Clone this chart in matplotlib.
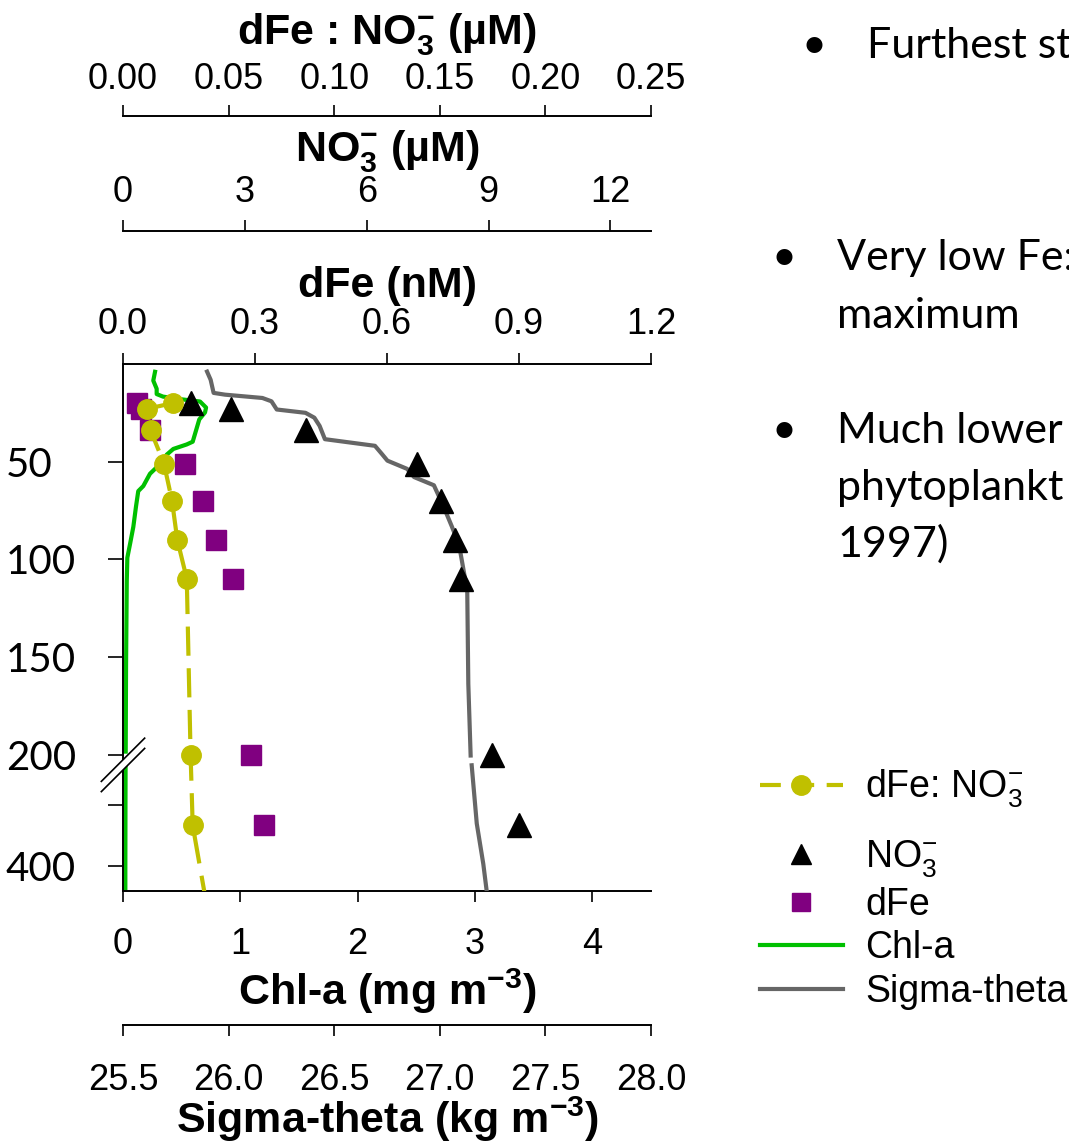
import numpy as np
import matplotlib

matplotlib.use("Agg")
import matplotlib.pyplot as plt
from matplotlib.lines import Line2D
from matplotlib.patches import Polygon

plt.rcParams["font.family"] = ["Liberation Sans", "DejaVu Sans"]
plt.rcParams["mathtext.fontset"] = "custom"
plt.rcParams["mathtext.rm"] = "Liberation Sans"
plt.rcParams["mathtext.bf"] = "Liberation Sans:bold"
plt.rcParams["mathtext.it"] = "Liberation Sans:italic"

# ---- bottle samples (depth in m) ----
sample_depth = [20, 23, 34, 51, 70, 90, 110, 200, 333]
no3 = [1.67, 2.66, 4.5, 7.24, 7.83, 8.18, 8.33, 9.09, 9.75]          # uM
dfe = [0.031, 0.040, 0.061, 0.141, 0.181, 0.211, 0.251, 0.29, 0.32]  # nM
ratio_depth = [20, 23, 34, 51, 70, 90, 110, 200, 333, 500]
ratio = [0.0237, 0.0112, 0.0131, 0.0194, 0.0232, 0.0257, 0.0302, 0.032, 0.033, 0.0415]

# ---- CTD profiles (nan = axis break) ----
chl_depth = [4, 8.5, 12.7, 15.4, 16.7, 18, 19.2, 22.3, 24.8, 28.4, 32.9, 39.8, 41.2,
             43.5, 46.4, 50.3, 52.9, 56.2, 62.5, 65.1, 72.9, 83.4, 92.2, 99.2, 111.4,
             155, 198.5, np.nan, 235, 300, 407, 440]
chl = [0.273, 0.258, 0.287, 0.287, 0.341, 0.486, 0.656, 0.708, 0.699, 0.650, 0.628,
       0.594, 0.543, 0.429, 0.373, 0.338, 0.287, 0.230, 0.173, 0.130, 0.111, 0.088,
       0.060, 0.037, 0.032, 0.026, 0.023, np.nan, 0.022, 0.021, 0.020, 0.020]
sig_depth = [3.9, 8.1, 14.8, 15.7, 17.4, 19.1, 23.3, 25, 27.5, 31.7, 38.5, 41.9, 46.1,
             49.5, 53.7, 57.9, 62.1, 72.3, 83.2, 92.5, 107.7, 116.7, 163.8, 200.5,
             np.nan, 235, 330, 396, 440]
sigma = [25.898, 25.915, 25.929, 25.983, 26.16, 26.203, 26.228, 26.364, 26.406,
         26.431, 26.456, 26.693, 26.726, 26.752, 26.845, 26.878, 26.972, 27.015,
         27.057, 27.091, 27.116, 27.13, 27.135, 27.146, np.nan, 27.151, 27.175,
         27.206, 27.222]

depth_ticks = [50, 100, 150, 200, 300, 400]
depth_labels = ["50", "100", "150", "200", "", "400"]

YELLOW = "#c0c000"
PURPLE = "#800080"
GREEN = "#00c000"
GREY = "#666666"

# broken depth axis: linear to 203 m, compressed below ~227 m
BRK, RESUME, K = 203.0, 227.0, 0.314


def fwd(d):
    d = np.asarray(d, float)
    return np.where(d <= BRK, d, np.where(d < RESUME, BRK, BRK + (d - RESUME) * K))


def inv(p):
    p = np.asarray(p, float)
    return np.where(p <= BRK, p, RESUME + (p - BRK) / K)


W, H = 1069, 1143
fig = plt.figure(figsize=(W / 100, H / 100), dpi=100)
ax = fig.add_axes([123 / W, 1 - 891 / H, 528 / W, 527 / H])

TICK = 26
TITLE = 31
PT = 72 / 100  # points per pixel


def style_axis(a, side, xlim, ticks, labels, title, outward_px, pad, labelpad):
    a.set_xlim(*xlim)
    for s in a.spines.values():
        s.set_visible(False)
    sp = a.spines[side]
    sp.set_visible(True)
    sp.set_linewidth(1.4)
    if outward_px:
        sp.set_position(("outward", outward_px * PT))
    a.xaxis.set_ticks_position(side)
    a.xaxis.set_label_position(side)
    a.set_xticks(ticks)
    a.set_xticklabels(labels)
    a.tick_params(axis="x", direction="out", length=8, width=1.2, labelsize=TICK, pad=pad)
    a.set_xlabel(title, fontsize=TITLE, fontweight="bold", labelpad=labelpad)


ax.set_yscale("function", functions=(fwd, inv))
ax.set_ylim(440, 0)

ax_sig = ax.twiny()
ax_fe = ax.twiny()
ax_no3 = ax.twiny()
ax_rat = ax.twiny()

# Chl-a on the main axes
ax.plot(chl, chl_depth, color=GREEN, lw=3)
style_axis(ax, "bottom", (0, 4.5), [0, 1, 2, 3, 4], ["0", "1", "2", "3", "4"],
           r"Chl-a (mg m$^{\mathbf{-3}}$)", 0, 18, 3)
ax.spines["left"].set_visible(True)
ax.spines["left"].set_linewidth(1.4)
ax.set_yticks(depth_ticks)
ax.set_yticklabels(depth_labels)
ax.tick_params(axis="y", direction="out", length=11, width=1.2, labelsize=29, pad=(123 - 15 - 6) * PT)
for lab in ax.get_yticklabels():
    lab.set_ha("left")
    lab.set_fontfamily("Lato")
ax.yaxis.set_minor_locator(matplotlib.ticker.NullLocator())

ax_sig.plot(sigma, sig_depth, color=GREY, lw=3)
style_axis(ax_sig, "bottom", (25.5, 28.0), [25.5, 26.0, 26.5, 27.0, 27.5, 28.0],
           ["25.5", "26.0", "26.5", "27.0", "27.5", "28.0"],
           r"Sigma-theta (kg m$^{\mathbf{-3}}$)", 134, 19, -2)

ax_fe.plot(dfe, sample_depth, ls="none", marker="s", ms=15, color=PURPLE)
style_axis(ax_fe, "top", (0, 1.2), [0, 0.3, 0.6, 0.9, 1.2],
           ["0.0", "0.3", "0.6", "0.9", "1.2"], "dFe (nM)", 0, 8, 7)

ax_no3.plot(no3, sample_depth, ls="none", marker="^", ms=17, color="black")
style_axis(ax_no3, "top", (0, 13), [0, 3, 6, 9, 12], ["0", "3", "6", "9", "12"],
           r"NO$_{\mathbf{3}}^{\mathbf{-}}$ (µM)", 133, 7, 10)

ax_rat.plot(ratio, ratio_depth, ls=(0, (7, 3)), lw=3, marker="o", ms=14,
            color=YELLOW)
style_axis(ax_rat, "top", (0, 0.25), [0, 0.05, 0.10, 0.15, 0.20, 0.25],
           ["0.00", "0.05", "0.10", "0.15", "0.20", "0.25"],
           r"dFe : NO$_{\mathbf{3}}^{\mathbf{-}}$ (µM)", 248, 6, 12)

# axis-break marks on the depth axis
yc_hi, yc_lo, hx, hy = 0.249, 0.2296, 0.041, 0.041
ax_rat.add_patch(Polygon([(-hx, yc_hi - hy), (hx, yc_hi + hy), (hx, yc_lo + hy), (-hx, yc_lo - hy)],
                         closed=True, facecolor="white", edgecolor="none",
                         transform=ax_rat.transAxes, clip_on=False, zorder=5))
for yc in (yc_hi, yc_lo):
    ax_rat.plot([-hx, hx], [yc - hy, yc + hy], color="black", lw=1.2,
                transform=ax_rat.transAxes, clip_on=False, zorder=6)

LEG = dict(loc="upper left", frameon=False, fontsize=27, handlelength=2.2,
           handletextpad=0.6, borderpad=0, borderaxespad=0)
h_ratio = Line2D([], [], color=YELLOW, ls=(0, (5, 3)), lw=3, marker="o", ms=14)
fig.legend([h_ratio], [r"dFe: NO$_3^{-}$"], bbox_to_anchor=(760 / W, 1 - 768 / H), **LEG)
handles = [
    Line2D([], [], color="black", ls="none", marker="^", ms=15),
    Line2D([], [], color=PURPLE, ls="none", marker="s", ms=13),
    Line2D([], [], color=GREEN, lw=3),
    Line2D([], [], color=GREY, lw=3),
]
labels = [r"NO$_3^{-}$", "dFe", "Chl-a", "Sigma-theta"]
fig.legend(handles, labels, bbox_to_anchor=(760 / W, 1 - 838 / H), labelspacing=0.2, **LEG)

# slide bullet text to the right of the chart
BUL = dict(fontsize=31, family="Lato", va="baseline", ha="left")
DOT = dict(fontsize=31, family="Lato", va="baseline", ha="center")
fig.text(814 / W, 1 - 58 / H, "•", **DOT)
fig.text(867 / W, 1 - 58 / H, "Furthest st", **BUL)
fig.text(784 / W, 1 - 270 / H, "•", **DOT)
fig.text(837 / W, 1 - 270 / H, "Very low Fe:", **BUL)
fig.text(837 / W, 1 - 328 / H, "maximum", **BUL)
fig.text(784 / W, 1 - 443 / H, "•", **DOT)
fig.text(837 / W, 1 - 443 / H, "Much lower", **BUL)
fig.text(837 / W, 1 - 500 / H, "phytoplankt", **BUL)
fig.text(837 / W, 1 - 557 / H, "1997)", **BUL)

fig.savefig("out.png", dpi=100)
